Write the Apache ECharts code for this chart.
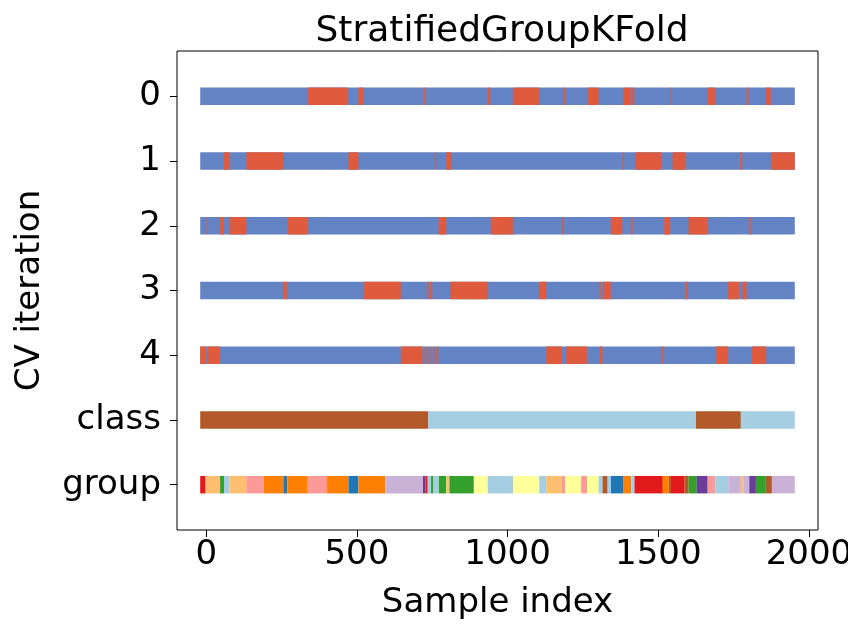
<!DOCTYPE html>
<html>
<head>
<meta charset="utf-8">
<title>StratifiedGroupKFold</title>
<script src="https://cdn.jsdelivr.net/npm/echarts@6/dist/echarts.min.js"></script>
<style>
  html, body { margin: 0; padding: 0; background: #fff; }
  #chart { width: 848px; height: 624px; }
</style>
</head>
<body>
<div id="chart"></div>
<script>
// row labels, top to bottom
const rowLabels = ['0', '1', '2', '3', '4', 'class', 'group'];
const xTicks = [0, 500, 1000, 1500, 2000];

// visible extent of every row (sample index units)
const rowStart = -20;
const rowEnd = 1953;

// test (red) stretches for each CV split, the rest is train (blue)
const test0 = [[337, 470], [505, 522], [722, 727], [934, 942], [1019, 1105], [1186, 1192], [1266, 1302], [1385, 1410], [1415, 1421], [1542, 1545], [1664, 1689], [1793, 1799], [1857, 1874]];
const test1 = [[59, 77], [133, 256], [472, 505], [760, 763], [796, 813], [1382, 1386], [1424, 1511], [1548, 1590], [1772, 1778], [1875, 1953]];
const test2 = [[0, 3], [46, 59], [77, 133], [271, 337], [772, 796], [945, 1019], [1180, 1185], [1343, 1380], [1410, 1415], [1520, 1539], [1601, 1664], [1802, 1808]];
const test3 = [[256, 269], [523, 647], [733, 737], [742, 750], [810, 934], [1105, 1128], [1305, 1310], [1318, 1343], [1590, 1598], [1732, 1769], [1780, 1793]];
const test4 = [[-20, 0], [6, 46], [647, 718], [727, 732], [741, 745], [754, 758], [765, 770], [1128, 1180], [1194, 1264], [1307, 1315], [1511, 1517], [1692, 1732], [1811, 1857]];

// class row
const classEdges = [-20, 736, 1625, 1774, 1953];
const classIds = [0, 1, 0, 1];

// group row
const groupEdges = [-20, -2, 46, 59, 77, 133, 191, 256, 269, 337, 401, 472, 505, 595, 719, 727, 735, 746, 754, 772,
  796, 807, 888, 934, 1019, 1105, 1128, 1180, 1192, 1244, 1264, 1302, 1315, 1332, 1343, 1385, 1410, 1421, 1515, 1535,
  1542, 1586, 1601, 1628, 1664, 1689, 1732, 1774, 1782, 1802, 1824, 1857, 1877, 1953];
const groupIds = [5, 6, 3, 0, 6, 4, 7, 1, 7, 4, 7, 1, 7, 8, 9, 5, 0, 3, 0, 3,
  6, 3, 10, 0, 10, 0, 6, 4, 10, 4, 10, 0, 11, 0, 1, 7, 0, 5, 7, 11,
  5, 11, 3, 9, 4, 0, 8, 6, 8, 9, 3, 11, 8];

const trainColor = '#6383c4';
const testColor = '#e05b3e';
const classColors = ['#b15928', '#a6cee3'];
const paired = ['#a6cee3', '#1f78b4', '#b2df8a', '#33a02c', '#fb9a99', '#e31a1c',
  '#fdbf6f', '#ff7f00', '#cab2d6', '#6a3d9a', '#ffff99', '#b15928'];

const segs = [];
[test0, test1, test2, test3, test4].forEach((tests, row) => {
  segs.push({ value: [row, rowStart, rowEnd], itemStyle: { color: trainColor } });
  tests.forEach(t => {
    segs.push({ value: [row, t[0], t[1]], itemStyle: { color: testColor } });
  });
});
classIds.forEach((c, i) => {
  segs.push({ value: [5, classEdges[i], classEdges[i + 1]], itemStyle: { color: classColors[c] } });
});
groupIds.forEach((g, i) => {
  segs.push({ value: [6, groupEdges[i], groupEdges[i + 1]], itemStyle: { color: paired[g] } });
});

function renderItem(params, api) {
  const row = api.value(0);
  const p0 = api.coord([api.value(1), row + 0.5]);
  const p1 = api.coord([api.value(2), row + 0.5]);
  const h = api.size([0, 0.27])[1];
  return {
    type: 'rect',
    shape: { x: p0[0], y: p0[1] - h / 2, width: p1[0] - p0[0], height: h },
    style: { fill: api.visual('color') }
  };
}

const font = 'DejaVu Sans';
const myChart = echarts.init(document.getElementById('chart'));
myChart.setOption({
  animation: false,
  backgroundColor: '#fff',
  title: {
    text: 'StratifiedGroupKFold',
    left: 497,
    top: 9,
    textAlign: 'center',
    textStyle: { fontFamily: font, fontSize: 36, fontWeight: 'normal', color: '#000' }
  },
  grid: {
    left: 177,
    right: 30,
    top: 51,
    bottom: 94,
    outerBoundsMode: 'none',
    show: true,
    borderColor: '#000',
    borderWidth: 1
  },
  xAxis: {
    type: 'value',
    min: -97,
    max: 2030,
    axisLine: { show: false, onZero: false },
    splitLine: { show: false },
    axisTick: { show: true, customValues: xTicks, length: 7, lineStyle: { color: '#000' } },
    axisLabel: { customValues: xTicks, formatter: v => String(v), fontFamily: font, fontSize: 34, color: '#000', margin: 8 },
    name: 'Sample index',
    nameLocation: 'middle',
    nameGap: 56,
    nameTextStyle: { fontFamily: font, fontSize: 34, color: '#000' }
  },
  yAxis: {
    type: 'value',
    min: -0.2,
    max: 7.2,
    inverse: true,
    axisLine: { show: false, onZero: false },
    splitLine: { show: false },
    axisTick: { show: true, customValues: [0.5, 1.5, 2.5, 3.5, 4.5, 5.5, 6.5], length: 7, lineStyle: { color: '#000' } },
    axisLabel: {
      customValues: [0.5, 1.5, 2.5, 3.5, 4.5, 5.5, 6.5],
      formatter: v => rowLabels[Math.round(v - 0.5)],
      fontFamily: font, fontSize: 34, color: '#000', margin: 16
    },
    name: 'CV iteration',
    nameLocation: 'middle',
    nameGap: 130,
    nameTextStyle: { fontFamily: font, fontSize: 34, color: '#000' }
  },
  series: [{
    type: 'custom',
    renderItem: renderItem,
    encode: { x: [1, 2], y: 0 },
    data: segs
  }]
});
</script>
</body>
</html>
